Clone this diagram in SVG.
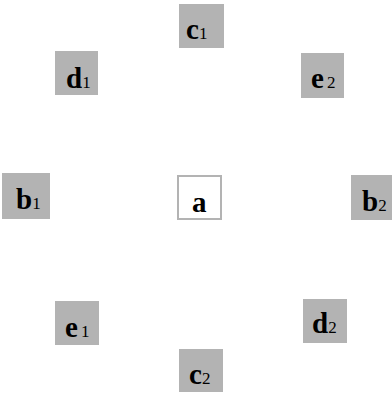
<svg xmlns="http://www.w3.org/2000/svg" width="392" height="393" viewBox="0 0 392 393">
<style>
.g{fill:#b3b3b3;stroke:none}
.w{fill:#ffffff;stroke:#b3b3b3;stroke-width:2}
.t{font-family:"Liberation Serif","Times New Roman",serif;font-size:29px;font-weight:bold;fill:#000}
.s{font-size:17px;font-weight:normal}
</style>
<rect width="392" height="393" fill="#ffffff"/>
<g id="connectors"></g>
<g id="c1"><rect class="g" x="179" y="4" width="45" height="44"/><text class="t" x="186" y="39">c<tspan class="s">1</tspan></text></g>
<g id="d1"><rect class="g" x="55" y="51" width="43" height="44"/><text class="t" x="66" y="88">d<tspan class="s">1</tspan></text></g>
<g id="e2"><rect class="g" x="301" y="53" width="43" height="45"/><text class="t" x="311" y="88">e<tspan class="s" dx="3">2</tspan></text></g>
<g id="b1"><rect class="g" x="2" y="173" width="48" height="46"/><text class="t" x="16" y="209">b<tspan class="s">1</tspan></text></g>
<g id="a"><rect class="w" x="178" y="176" width="43" height="43"/><text class="t" x="192" y="212">a</text></g>
<g id="b2"><rect class="g" x="351" y="175" width="41" height="45"/><text class="t" x="362" y="211">b<tspan class="s">2</tspan></text></g>
<g id="e1"><rect class="g" x="55" y="301" width="44" height="44"/><text class="t" x="65" y="337">e<tspan class="s" dx="3">1</tspan></text></g>
<g id="d2"><rect class="g" x="303" y="299" width="44" height="44"/><text class="t" x="312" y="333">d<tspan class="s">2</tspan></text></g>
<g id="c2"><rect class="g" x="179" y="349" width="44" height="43"/><text class="t" x="189" y="384">c<tspan class="s">2</tspan></text></g>
</svg>
